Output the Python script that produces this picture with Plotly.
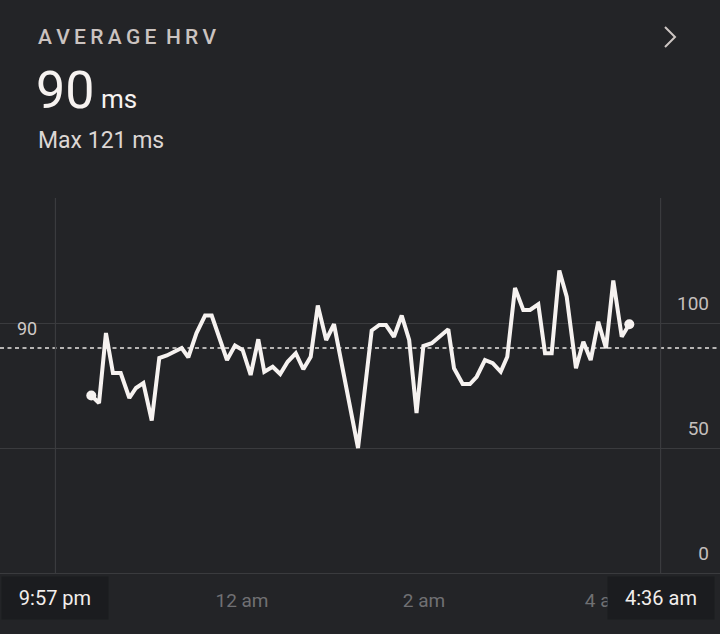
import plotly.graph_objects as go

# ---- data (hours relative to midnight, HRV ms) ----
hours = [-1.656, -1.571, -1.495, -1.418, -1.333, -1.238, -1.165, -1.084, -0.992,
         -0.909, -0.826, -0.744, -0.663, -0.590, -0.500, -0.406, -0.333,
         -0.165, -0.077, 0.007, 0.095, 0.179, 0.245, 0.337, 0.420, 0.502,
         0.591, 0.674, 0.755, 0.833, 0.925, 1.011, 1.275, 1.425, 1.509,
         1.582, 1.670, 1.755, 1.837, 1.918, 1.993, 2.085, 2.176, 2.267,
         2.330, 2.425, 2.505, 2.579, 2.670, 2.755, 2.843, 2.915, 3.000,
         3.091, 3.165, 3.256, 3.330, 3.403, 3.487, 3.568, 3.670, 3.751,
         3.832, 3.915, 4.000, 4.080, 4.173, 4.256]
hrv = [71, 68, 96, 80, 80, 70, 74, 76, 61,
       86, 87, 88.5, 90, 86.3, 96, 103, 103,
       85.2, 91, 89.2, 79.2, 93.5, 80.5, 82.5, 79.6, 84.5,
       87.9, 81.5, 86.5, 107, 93.2, 99.5, 50, 97, 99.2,
       99.2, 94.5, 103, 93.2, 64, 90.8, 91.9, 94.5, 97.5,
       81.9, 75.6, 75.6, 78.5, 85.2, 83.9, 80.5, 86.5, 114,
       105.2, 105.2, 107.5, 87.9, 87.9, 121, 110.5, 81.9, 92.5,
       85.2, 100.5, 89.9, 117, 94.5, 99.5]

avg_value = 90
max_value = 121
start_h, end_h = -2.05, 4.60
start_label, end_label = "9:57 pm", "4:36 am"
x_tick_vals = [0, 2, 4]
x_tick_text = ["12 am", "2 am", "4 am"]
y_tick_vals = [0, 50, 100]
y_tick_text = ["0", "50", "100"]

# ---- geometry helpers ----
W, H = 720, 634
BOTTOM = 61
PLOT_H = H - BOTTOM


def px(xp):
    return xp / W


def py(yp):
    return (PLOT_H - yp) / PLOT_H


BG = "#232427"
GRID = "#3a3b3e"
WHITE = "#f6f2f0"
FONT = "Roboto"

fig = go.Figure()

fig.add_trace(go.Scatter(
    x=hours, y=hrv, mode="lines",
    line=dict(color=WHITE, width=4, shape="linear"),
    hoverinfo="skip", showlegend=False,
))
fig.add_trace(go.Scatter(
    x=[hours[0], hours[-1]], y=[hrv[0], hrv[-1]], mode="markers",
    marker=dict(color=WHITE, size=10),
    hoverinfo="skip", showlegend=False,
))

# average dashed line
fig.add_shape(type="line", xref="paper", x0=0, x1=1, yref="y",
              y0=avg_value, y1=avg_value,
              line=dict(color="#e8e4e2", width=1.5, dash="4px,3.5px"), layer="below")
# start / end vertical lines
for xv in (start_h, end_h):
    fig.add_shape(type="line", xref="x", x0=xv, x1=xv, yref="y", y0=0, y1=150,
                  line=dict(color=GRID, width=1.2), layer="below")

# chevron
fig.add_shape(type="path",
              path=f"M {px(665)} {py(27)} L {px(675)} {py(37)} L {px(665)} {py(47)}",
              xref="paper", yref="paper",
              line=dict(color="#cdc6c3", width=2))

ann = []
ann.append(dict(x=px(36), y=py(37), xref="paper", yref="paper",
                text="A\u2009V\u2009E\u2009R\u2009A\u2009G\u2009E\u2009 H\u2009R\u2009V",
                showarrow=False, xanchor="left", yanchor="middle",
                font=dict(family=FONT, size=21, color="#cbc3c0", weight=500)))
ann.append(dict(x=px(34), y=py(90), xref="paper", yref="paper",
                text=f"{avg_value}<span style='font-size:26px'> ms</span>",
                showarrow=False, xanchor="left", yanchor="middle",
                font=dict(family=FONT, size=52, color=WHITE)))
ann.append(dict(x=px(36), y=py(140), xref="paper", yref="paper",
                text=f"Max {max_value} ms",
                showarrow=False, xanchor="left", yanchor="middle",
                font=dict(family=FONT, size=23, color="#dcd6d4")))
# average label on left
ann.append(dict(x=px(27), y=avg_value, xref="paper", yref="y", yshift=20,
                text=str(avg_value), showarrow=False, xanchor="center", yanchor="middle",
                font=dict(family=FONT, size=18, color="#d0cac8")))
# start / end badges
for xv, lab in ((start_h, start_label), (end_h, end_label)):
    ann.append(dict(x=px(242 + 91 * xv), y=py(598), xref="paper", yref="paper",
                    text=lab, showarrow=False,
                    xanchor="center", yanchor="middle", width=104, height=40,
                    bgcolor="#1b1c1f", font=dict(family=FONT, size=20, color="#f2eeec")))

fig.update_layout(
    width=W, height=H,
    margin=dict(l=0, r=0, t=0, b=BOTTOM, pad=0),
    paper_bgcolor=BG, plot_bgcolor=BG,
    annotations=ann,
    xaxis=dict(range=[(0 - 242) / 91, (720 - 242) / 91],
               tickvals=x_tick_vals, ticktext=x_tick_text,
               showgrid=False, zeroline=False, showline=True,
               linecolor=GRID, linewidth=1.2, ticks="",
               ticklabelstandoff=10,
               tickfont=dict(family=FONT, size=19, color="#707073")),
    yaxis=dict(range=[0, PLOT_H / 2.5], tickvals=y_tick_vals, ticktext=y_tick_text,
               side="right", ticklabelposition="inside", ticklabelshift=-20,
               ticklabelstandoff=8,
               showgrid=True, gridcolor=GRID, gridwidth=1.2,
               zeroline=False, showline=False, ticks="",
               tickfont=dict(family=FONT, size=19, color="#c4bfbd")),
)

fig.write_html("out.html", config={"displayModeBar": False},
               post_script="document.body.style.margin='0';document.body.style.background='#232427';")
